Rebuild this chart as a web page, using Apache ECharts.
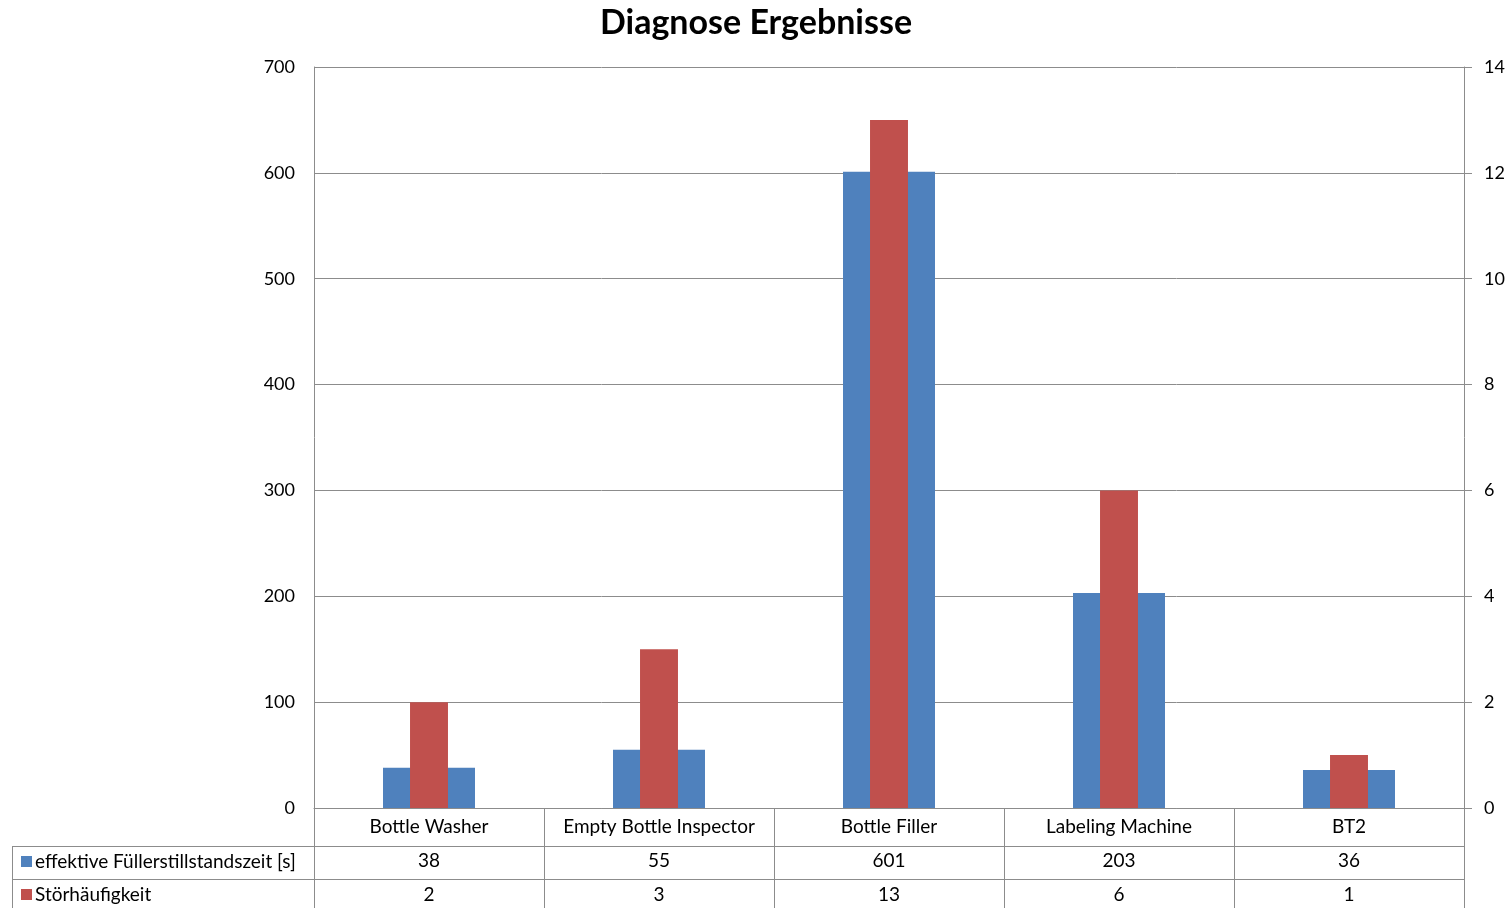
<!DOCTYPE html>
<html><head><meta charset="utf-8">
<script src="https://cdn.jsdelivr.net/npm/echarts@6/dist/echarts.min.js"></script>
<style>html,body{margin:0;padding:0;background:#fff}#c{width:1512px;height:908px}</style>
</head><body><div id="c"></div>
<script>
const categories = ['Bottle Washer', 'Empty Bottle Inspector', 'Bottle Filler', 'Labeling Machine', 'BT2'];
const seriesNames = ['effektive Füllerstillstandszeit [s]', 'Störhäufigkeit'];
const stillstandszeit = [38, 55, 601, 203, 36];
const haeufigkeit = [2, 3, 13, 6, 1];
const leftTicks = [0, 700, 100];
const rightTicks = [0, 14, 2];

const FONT = 'Lato';
const gridColor = '#8c8c8c';
const chart = echarts.init(document.getElementById('c'));
const labelFmt = (v, i) => `{a|${v}}\n{b|${stillstandszeit[i]}}\n{b|${haeufigkeit[i]}}`;
chart.setOption({
  animation: false,
  textStyle: { fontFamily: FONT },
  title: { text: 'Diagnose Ergebnisse', left: 'center', top: 1,
    textStyle: { fontFamily: FONT, fontSize: 34, fontWeight: 'bold', color: '#000' } },
  grid: { left: 314, right: 48, top: 67, bottom: 100 },
  legend: [
    { data: [seriesNames[0]], left: 16, top: 847, icon: 'rect', itemWidth: 11, itemHeight: 11, itemGap: 4,
      textStyle: { fontFamily: FONT, fontSize: 19, color: '#000', padding: [0,0,0,-2] } },
    { data: [seriesNames[1]], left: 16, top: 880, icon: 'rect', itemWidth: 11, itemHeight: 11, itemGap: 4,
      textStyle: { fontFamily: FONT, fontSize: 19, color: '#000', padding: [0,0,0,-2] } }
  ],
  xAxis: [
    { type: 'category', data: categories, position: 'bottom',
      axisLine: { lineStyle: { color: gridColor } },
      axisTick: { show: true, interval: 0, length: 100, lineStyle: { color: gridColor } },
      axisLabel: { interval: 0, margin: 2, formatter: labelFmt,
        rich: { a: { fontFamily: FONT, fontSize: 19, color: '#000', lineHeight: 34 },
                b: { fontFamily: FONT, fontSize: 19, color: '#000', lineHeight: 34 } } } },
    { type: 'category', data: categories, position: 'bottom', show: false }
  ],
  yAxis: [
    { type: 'value', min: leftTicks[0], max: leftTicks[1], interval: leftTicks[2], position: 'left',
      axisLine: { show: true, lineStyle: { color: gridColor } }, axisTick: { show: false },
      axisLabel: { margin: 19, fontFamily: FONT, fontSize: 18, color: '#000' },
      splitLine: { lineStyle: { color: gridColor } } },
    { type: 'value', min: rightTicks[0], max: rightTicks[1], interval: rightTicks[2], position: 'right',
      axisLine: { show: true, lineStyle: { color: gridColor } },
      axisTick: { show: true, length: 8, lineStyle: { color: gridColor } },
      axisLabel: { margin: 20, fontFamily: FONT, fontSize: 18, color: '#000' },
      splitLine: { show: false } }
  ],
  series: [
    { name: seriesNames[0], type: 'bar', xAxisIndex: 0, yAxisIndex: 0, data: stillstandszeit,
      barWidth: '40%', itemStyle: { color: '#4F81BD' } },
    { name: seriesNames[1], type: 'bar', xAxisIndex: 1, yAxisIndex: 1, data: haeufigkeit,
      barWidth: '16.5%', itemStyle: { color: '#C0504D' } }
  ],
  graphic: [
    { type: 'line', shape: { x1: 12, y1: 846.5, x2: 1464, y2: 846.5 }, style: { stroke: gridColor, lineWidth: 1 } },
    { type: 'line', shape: { x1: 12, y1: 879.5, x2: 1464, y2: 879.5 }, style: { stroke: gridColor, lineWidth: 1 } },
    { type: 'line', shape: { x1: 12.5, y1: 846, x2: 12.5, y2: 908 }, style: { stroke: gridColor, lineWidth: 1 } }
  ]
});
</script></body></html>
